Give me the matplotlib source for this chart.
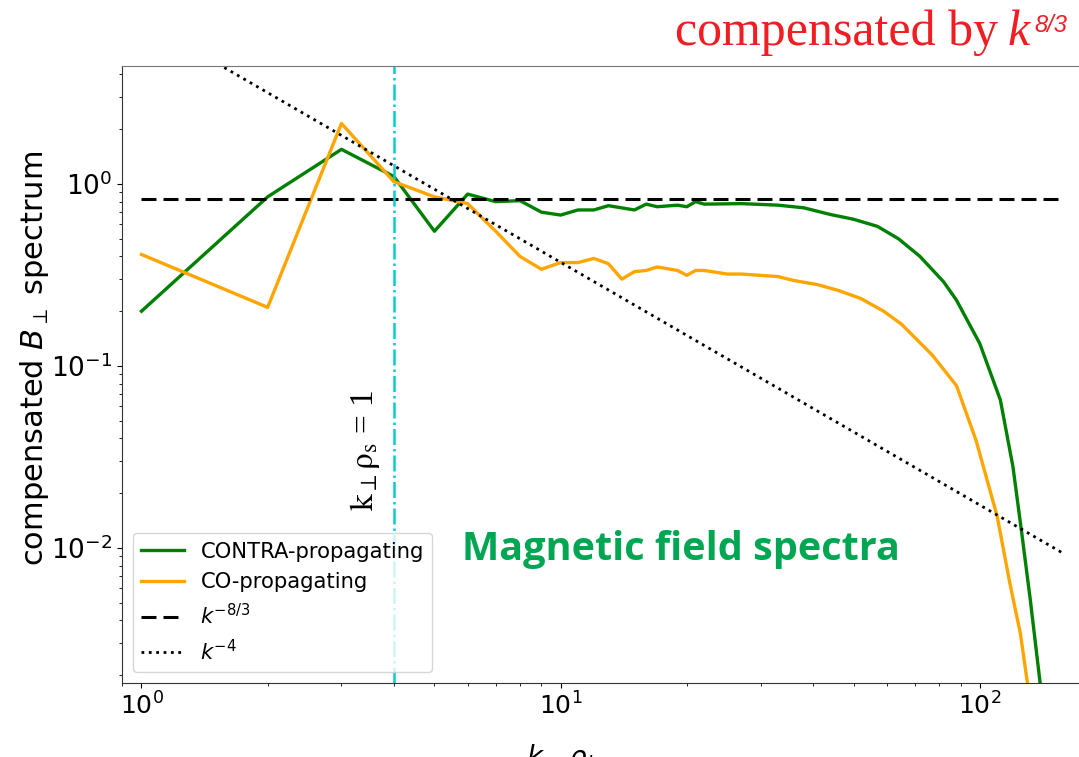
import numpy as np
import matplotlib
matplotlib.use('Agg')
import matplotlib.pyplot as plt

# spectra (k_perp rho_i, compensated spectrum)
contra_k = [1, 2, 3, 4, 5, 6, 7, 8, 9, 10, 11, 12, 13, 15, 16, 17, 19, 20, 21, 22,
            27, 33, 38, 44, 50, 57, 64, 72, 82, 88, 92, 100, 112, 120, 126, 132, 139, 145]
contra_val = [0.20, 0.85, 1.55, 1.10, 0.55, 0.88, 0.80, 0.81, 0.70, 0.675, 0.72, 0.72, 0.76,
              0.72, 0.775, 0.75, 0.765, 0.75, 0.80, 0.775, 0.78, 0.765, 0.74, 0.68, 0.64,
              0.585, 0.50, 0.40, 0.29, 0.23, 0.19, 0.133, 0.065, 0.028, 0.012, 0.0052,
              0.0019, 0.0008]

co_k = [1, 2, 3, 4, 5, 6, 7, 8, 9, 10, 11, 12, 13, 14, 15, 16, 17, 19, 20, 21, 22, 25,
        27, 33, 36, 41, 46, 52, 59, 65, 77, 88, 98, 110, 118, 125, 130, 135]
co_val = [0.41, 0.21, 2.15, 1.03, 0.85, 0.78, 0.55, 0.40, 0.34, 0.37, 0.37, 0.39, 0.365,
          0.30, 0.33, 0.335, 0.35, 0.335, 0.315, 0.335, 0.335, 0.32, 0.32, 0.31, 0.295,
          0.28, 0.26, 0.235, 0.20, 0.17, 0.115, 0.078, 0.039, 0.015, 0.0064, 0.0034,
          0.0018, 0.0009]

# reference power laws (compensated by k^8/3)
flat_k = np.array([1, 160])
flat_level = 0.83
steep_k = np.array([1, 158])
steep_amp = 8.0
k_rho_s = 4

red = '#f01e23'
mag_green = '#00a651'

fig = plt.figure(figsize=(10.79, 7.57), dpi=100)
ax = fig.add_axes([0.11335, 0.09815, 0.9116, 0.8147])

ax.plot(contra_k, contra_val, color='green', lw=2.4, label='CONTRA-propagating')
ax.plot(co_k, co_val, color='orange', lw=2.4, label='CO-propagating')
ax.plot(flat_k, flat_level * flat_k ** 0.0, color='black', lw=2.2, ls='--',
        dashes=(4.9, 2.3), label=r'$k^{-8/3}$')
ax.plot(steep_k, steep_amp * steep_k ** (-4 / 3), color='black', lw=2, ls=':',
        label=r'$k^{-4}$')
ax.axvline(k_rho_s, color='darkturquoise', lw=1.8, ls='-.')

ax.set_xscale('log')
ax.set_yscale('log')
ax.set_xlim(0.9, 200)
ax.set_ylim(0.00182, 4.45)

ax.tick_params(axis='x', labelsize=18)
ax.tick_params(axis='y', labelsize=19)
for spine in ax.spines.values():
    spine.set_color('#333333')
ax.spines['top'].set_color('#777777')

ax.set_ylabel(r'compensated $B_\perp$ spectrum', fontsize=22)
ax.yaxis.set_label_coords(-0.073, 0.5265)
ax.set_xlabel(r'$k_\perp\,\rho_i$', fontsize=20)
ax.xaxis.set_label_coords(0.445, -0.096)

ax.legend(loc='lower left', fontsize=15.2, borderaxespad=0.5)

ax.text(3.41, 0.0346, r'$\mathrm{k_{\perp}ρ_{s}}$ = 1', rotation=90, fontsize=24,
        family='Liberation Serif', math_fontfamily='stix', ha='center', va='center')

ax.text(0.345, 0.199, 'Magnetic field spectra', transform=ax.transAxes,
        fontsize=28.5, fontweight='bold', family='Open Sans', color=mag_green,
        ha='left', va='baseline')

# title pieces chained one after the other
title = fig.text(0.6256, 0.9406, 'compensated by', fontsize=36, family='Liberation Serif',
                 color=red, ha='left', va='baseline')
renderer = fig.canvas.get_renderer()
bb = title.get_window_extent(renderer)
k_txt = fig.text((bb.x1 + 9) / fig.bbox.width, 0.9406, 'k', fontsize=36,
                 family='Liberation Serif', style='italic', color=red,
                 ha='left', va='baseline')
bbk = k_txt.get_window_extent(renderer)
fig.text((bbk.x1 + 5) / fig.bbox.width, 0.958, '8/3', fontsize=17,
         family='Liberation Sans', style='italic', color=red, ha='left', va='baseline')

fig.savefig('out.png', dpi=100)
